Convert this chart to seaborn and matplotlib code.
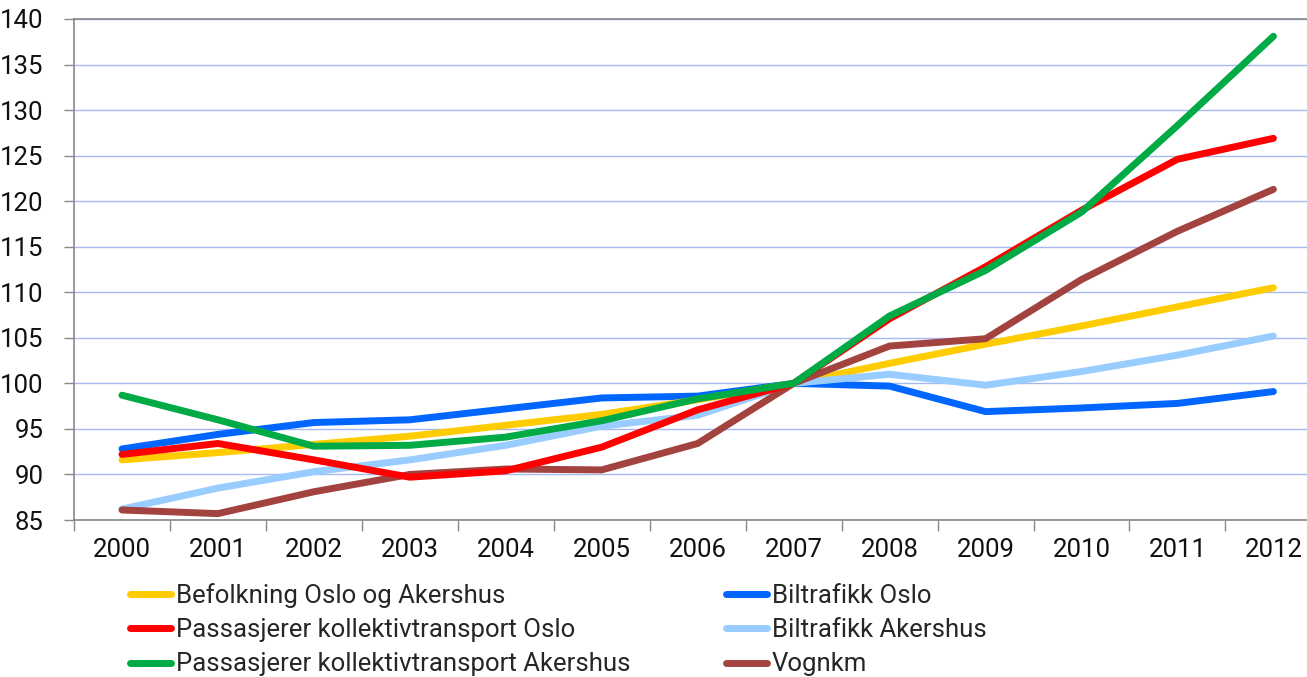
import matplotlib
matplotlib.use('Agg')
import matplotlib.pyplot as plt
import numpy as np
import pandas as pd
import seaborn as sns
from matplotlib.lines import Line2D
from matplotlib.ticker import FixedLocator, NullFormatter

years = list(range(2000, 2013))

befolkning = [91.6, 92.4, 93.3, 94.2, 95.4, 96.6, 98.2, 100.0, 102.2, 104.3, 106.3, 108.4, 110.5]
biltrafikk_oslo = [92.8, 94.4, 95.7, 96.0, 97.2, 98.4, 98.6, 100.0, 99.7, 96.9, 97.3, 97.8, 99.1]
pass_oslo = [92.2, 93.4, 91.6, 89.7, 90.4, 93.0, 97.1, 100.0, 107.1, 112.8, 119.0, 124.6, 126.9]
biltrafikk_akershus = [86.2, 88.5, 90.3, 91.6, 93.2, 95.3, 96.5, 100.0, 101.0, 99.8, 101.3, 103.1, 105.2]
pass_akershus = [98.7, 96.0, 93.1, 93.2, 94.1, 95.9, 98.3, 100.0, 107.4, 112.4, 118.8, 128.3, 138.1]
vognkm = [86.1, 85.7, 88.1, 90.0, 90.6, 90.5, 93.4, 100.0, 104.1, 104.9, 111.4, 116.7, 121.3]

series = {
    'Befolkning Oslo og Akershus': befolkning,
    'Passasjerer kollektivtransport Oslo': pass_oslo,
    'Passasjerer kollektivtransport Akershus': pass_akershus,
    'Biltrafikk Oslo': biltrafikk_oslo,
    'Biltrafikk Akershus': biltrafikk_akershus,
    'Vognkm': vognkm,
}
colors = {
    'Befolkning Oslo og Akershus': '#FFCC00',
    'Passasjerer kollektivtransport Oslo': '#FF0000',
    'Passasjerer kollektivtransport Akershus': '#00AA44',
    'Biltrafikk Oslo': '#0066FF',
    'Biltrafikk Akershus': '#99CCFF',
    'Vognkm': '#A3433F',
}
# drawing order (back to front)
draw_order = ['Biltrafikk Oslo', 'Befolkning Oslo og Akershus', 'Biltrafikk Akershus',
              'Vognkm', 'Passasjerer kollektivtransport Oslo',
              'Passasjerer kollektivtransport Akershus']

df = pd.DataFrame([(name, y, v) for name, vals in series.items()
                   for y, v in zip(years, vals)],
                  columns=['serie', 'year', 'value'])

sns.set_theme(style='white')
plt.rcParams['font.family'] = ['Roboto', 'DejaVu Sans']
FS = 18.5

W, H = 1307, 677
fig = plt.figure(figsize=(W / 100, H / 100), dpi=100)
ax = fig.add_axes([74 / W, 1 - 520 / H, (W - 74) / W, (520 - 19) / H])

sns.lineplot(data=df, x='year', y='value', hue='serie', hue_order=draw_order,
             palette=colors, linewidth=5, legend=False, ax=ax,
             solid_capstyle='round', solid_joinstyle='round')

ax.set_ylim(85, 140)
ax.set_xlim(1999.5, 2012.35)
ax.set_yticks(np.arange(85, 141, 5))
ax.yaxis.grid(True, color='#A8B8F2', linewidth=1)
ax.set_axisbelow(True)

ax.xaxis.set_major_locator(FixedLocator(np.arange(1999.5, 2013, 1)))
ax.xaxis.set_major_formatter(NullFormatter())
ax.set_xticks(years, [str(y) for y in years], minor=True)
ax.tick_params(axis='x', which='major', length=8, width=1, color='#888888', direction='out', bottom=True)
ax.tick_params(axis='x', which='minor', length=0, labelsize=FS, pad=13, colors='#111111')
ax.tick_params(axis='y', length=7, width=1, color='#888888', direction='out', left=True,
               labelsize=FS, pad=15, labelcolor='#111111')
ax.set_xlabel('')
ax.set_ylabel('')
for side in ['left', 'bottom', 'top']:
    ax.spines[side].set_color('#888888')
    ax.spines[side].set_linewidth(1.2)
ax.spines['right'].set_visible(False)

handles = [Line2D([], [], color=colors[n], linewidth=5, solid_capstyle='round') for n in series]
fig.legend(handles, list(series.keys()), loc='upper left', ncol=2,
           bbox_to_anchor=(130 / W, 1 - 583 / H), frameon=False, fontsize=FS,
           handlelength=1.6, handletextpad=0.2, columnspacing=3.7,
           labelspacing=0.4, borderpad=0, borderaxespad=0)

fig.savefig('out.png', dpi=100)
